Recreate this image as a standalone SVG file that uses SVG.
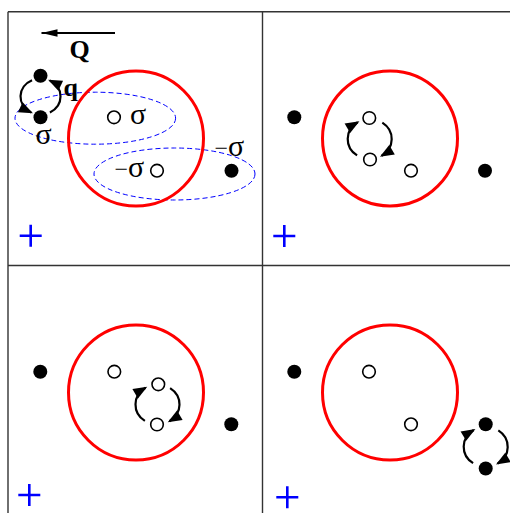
<svg xmlns="http://www.w3.org/2000/svg" width="510" height="513" viewBox="0 0 510 513">
<defs>
<style>
.grid{stroke:#333;stroke-width:1.4;fill:none}
.red{fill:none;stroke:#f00;stroke-width:3}
.ell{fill:none;stroke:#00f;stroke-width:1;stroke-dasharray:5,3}
.blk{fill:#000}
.opn{fill:#fff;stroke:#000;stroke-width:1.6}
.plus{stroke:#00f;stroke-width:2.6;fill:none}
.rot{fill:none;stroke:#000;stroke-width:2.2;marker-end:url(#ah)}
.lbl{font-family:"Liberation Serif","Times New Roman",serif;font-size:24px;fill:#000}
.big{font-size:30px}
.bold{font-weight:bold;font-size:26px}
</style>
<marker id="ah" markerUnits="userSpaceOnUse" markerWidth="15" markerHeight="12" refX="12" refY="5.5" orient="auto" overflow="visible">
<path d="M0,0 L14,5.5 L0,11 z" fill="#000"/>
</marker>
<marker id="ahq" markerUnits="userSpaceOnUse" markerWidth="17" markerHeight="9" refX="16" refY="3.75" orient="auto" overflow="visible">
<path d="M0,0 L16,3.75 L0,7.5 z" fill="#000"/>
</marker>
</defs>
<rect width="510" height="513" fill="#fff"/>
<g id="grid">
<line class="grid" x1="8" y1="11.7" x2="510" y2="11.7"/>
<line class="grid" x1="8" y1="265.5" x2="510" y2="265.5"/>
<line class="grid" x1="8" y1="11.7" x2="8" y2="513"/>
<line class="grid" x1="262.5" y1="11.7" x2="262.5" y2="513"/>
</g>
<g id="panel1">
<g id="ellipse1a"><ellipse class="ell" cx="95.3" cy="118.2" rx="80.3" ry="26"/></g>
<g id="ellipse1b"><ellipse class="ell" cx="174.5" cy="174" rx="80.5" ry="26"/></g>
<g id="circle1"><circle class="red" cx="136" cy="138.5" r="67.5"/></g>
<g id="p1dot1"><circle class="blk" cx="40.5" cy="75.7" r="7"/></g>
<g id="p1dot2"><circle class="blk" cx="40.5" cy="117.3" r="7"/></g>
<g id="p1open1"><circle class="opn" cx="114" cy="117.3" r="6.3"/></g>
<g id="p1open2"><circle class="opn" cx="157" cy="170.7" r="6.3"/></g>
<g id="p1dot3"><circle class="blk" cx="231.5" cy="170.7" r="7"/></g>
<g id="p1plus"><path class="plus" d="M19.7,235.7 H41.7 M30.7,224.7 V246.7"/></g>
<text class="lbl bold" x="69.5" y="57.5">Q</text>
<text class="lbl bold" x="63.5" y="95.5">q</text>
<text class="lbl big" x="130" y="123.5">σ</text>
<text class="lbl big" x="35.5" y="144">σ</text>
<text class="lbl" x="214.5" y="155.8">−<tspan class="big">σ</tspan></text>
<text class="lbl" x="114.5" y="177.3">−<tspan class="big">σ</tspan></text>
</g>
<g id="panel2">
<g id="circle2"><circle class="red" cx="390" cy="138.4" r="67.5"/></g>
<g id="p2dot1"><circle class="blk" cx="294.3" cy="117.3" r="7"/></g>
<g id="p2open1"><circle class="opn" cx="369.3" cy="118" r="6.3"/></g>
<g id="p2open2"><circle class="opn" cx="370" cy="159.5" r="6.3"/></g>
<g id="p2open3"><circle class="opn" cx="411" cy="170.7" r="6.3"/></g>
<g id="p2dot2"><circle class="blk" cx="485" cy="170.7" r="7"/></g>
<g id="p2plus"><path class="plus" d="M273.3,236 H295.3 M284.3,225 V247"/></g>
</g>
<g id="panel3">
<g id="circle3"><circle class="red" cx="136" cy="392.5" r="67.5"/></g>
<g id="p3dot1"><circle class="blk" cx="40.3" cy="371.7" r="7"/></g>
<g id="p3open1"><circle class="opn" cx="114.3" cy="371.7" r="6.3"/></g>
<g id="p3open2"><circle class="opn" cx="158.3" cy="384.3" r="6.3"/></g>
<g id="p3open3"><circle class="opn" cx="157" cy="424.5" r="6.3"/></g>
<g id="p3dot2"><circle class="blk" cx="231.3" cy="424.3" r="7"/></g>
<g id="p3plus"><path class="plus" d="M18.3,495 H40.3 M29.3,484 V506"/></g>
</g>
<g id="panel4">
<g id="circle4"><circle class="red" cx="390" cy="392.5" r="67.5"/></g>
<g id="p4dot1"><circle class="blk" cx="294.3" cy="371.7" r="7"/></g>
<g id="p4open1"><circle class="opn" cx="369" cy="371.7" r="6.3"/></g>
<g id="p4open2"><circle class="opn" cx="411" cy="424.3" r="6.3"/></g>
<g id="p4dot2"><circle class="blk" cx="485.7" cy="424.3" r="7"/></g>
<g id="p4dot3"><circle class="blk" cx="485.7" cy="468.5" r="7"/></g>
<g id="p4plus"><path class="plus" d="M276.3,497.3 H298.3 M287.3,486.3 V508.3"/></g>
</g>
<g id="connectors">
<line x1="115" y1="33" x2="41.5" y2="33" stroke="#000" stroke-width="2" marker-end="url(#ahq)"/>
<path class="rot" d="M32.05,80.19 A20,18 0 0 0 31.11,112.39"/>
<path class="rot" d="M49.89,112.39 A20,18 0 0 0 49.89,80.61"/>
<path class="rot" d="M357.08,155.38 A22,20 0 0 1 357.72,122.23"/>
<path class="rot" d="M382.32,122.62 A22,20 0 0 1 381.68,155.77"/>
<path class="rot" d="M144.88,420.88 A22,20 0 0 1 145.52,387.73"/>
<path class="rot" d="M170.12,388.12 A22,20 0 0 1 169.48,421.27"/>
<path class="rot" d="M473.08,463.18 A22,20 0 0 1 473.72,430.03"/>
<path class="rot" d="M498.32,430.42 A22,20 0 0 1 497.68,463.57"/>
</g>
</svg>
